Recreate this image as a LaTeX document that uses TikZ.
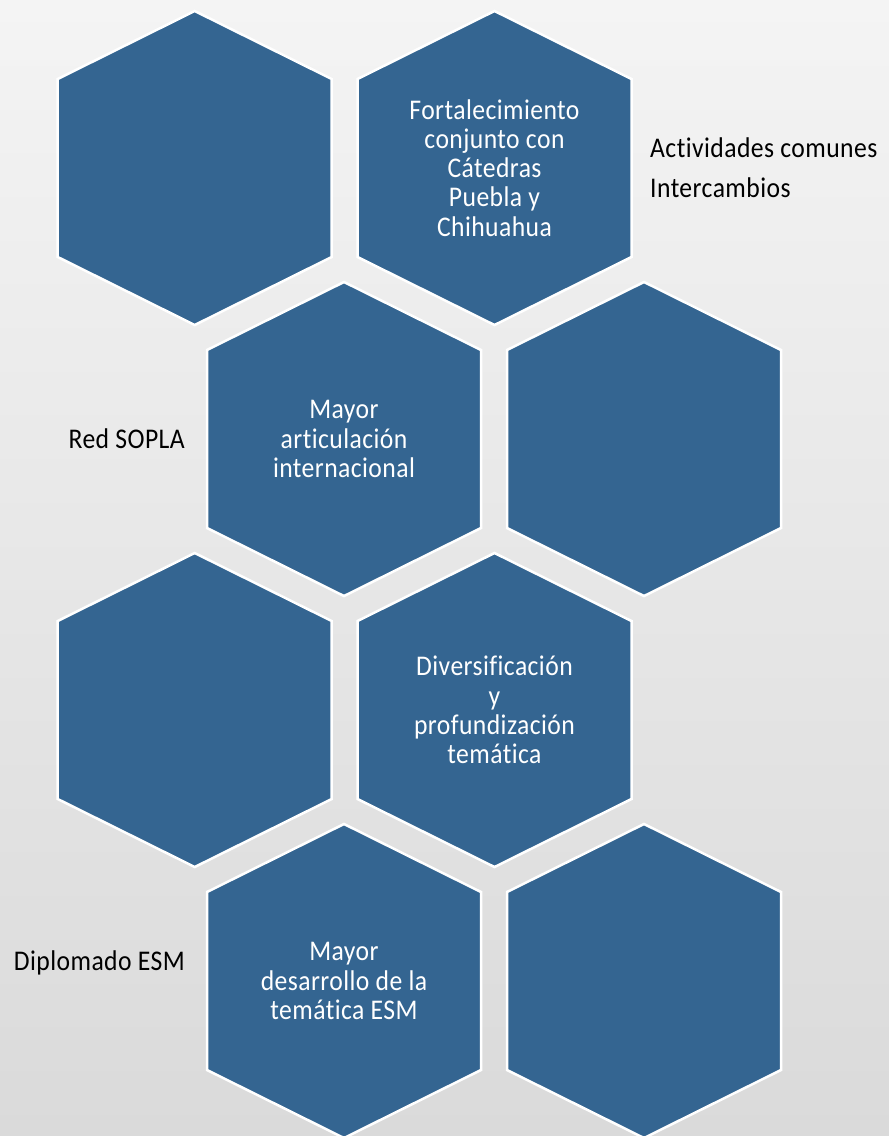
\documentclass[tikz,border=0pt]{standalone}
\usepackage{fontspec}
\newfontfamily\hexfont[FakeStretch=0.9,LetterSpace=1.5,Ligatures={NoCommon}]{Carlito}
\definecolor{hexblue}{RGB}{52,101,145}
\definecolor{bgtop}{RGB}{244,244,244}
\definecolor{bgbot}{RGB}{218,218,218}
\begin{document}
\begin{tikzpicture}[x=1pt,y=-1pt,
  hexcell/.style={fill=hexblue,draw=white,line width=2.5pt,line join=miter},
  hextext/.style={text=white,align=center,inner sep=0pt,font=\hexfont\fontsize{28.5}{29.2}\selectfont},
  sidetext/.style={text=black,inner sep=0pt,font=\hexfont\fontsize{28.5}{34}\selectfont}]
\useasboundingbox (0,0) rectangle (889,1136);
\shade[top color=bgtop,bottom color=bgbot] (0,0) rectangle (889,1136);
% hexagons
\foreach \cx/\cy in {194.7/168, 494.5/168, 344/439, 644/439, 194.7/710, 494.5/710, 344/981, 644/981}{
  \draw[hexcell] (\cx,\cy-157) -- (\cx+137,\cy-89) -- (\cx+137,\cy+89) -- (\cx,\cy+157)
    -- (\cx-137,\cy+89) -- (\cx-137,\cy-89) -- cycle;
}
% texts in hexagons
\node[hextext] (h2) at (494.5,168) {Fortalecimiento\\conjunto con\\Cátedras\\Puebla y\\Chihuahua};
\node[hextext] (h3) at (344,439) {Mayor\\articulación\\internacional};
\node[hextext] (h6) at (494.5,710) {Diversificación\\y\\profundización\\temática};
\node[hextext] (h7) at (344,981) {Mayor\\desarrollo de la\\temática ESM};
% side texts
\node[sidetext,anchor=base west] (a1) at (650,157) {Actividades comunes};
\node[sidetext,anchor=base west] (a2) at (650,197) {Intercambios};
\node[sidetext,anchor=base east] (r1) at (185,448) {Red SOPLA};
\node[sidetext,anchor=base east] (d1) at (185,970) {Diplomado ESM};
\end{tikzpicture}
\end{document}
